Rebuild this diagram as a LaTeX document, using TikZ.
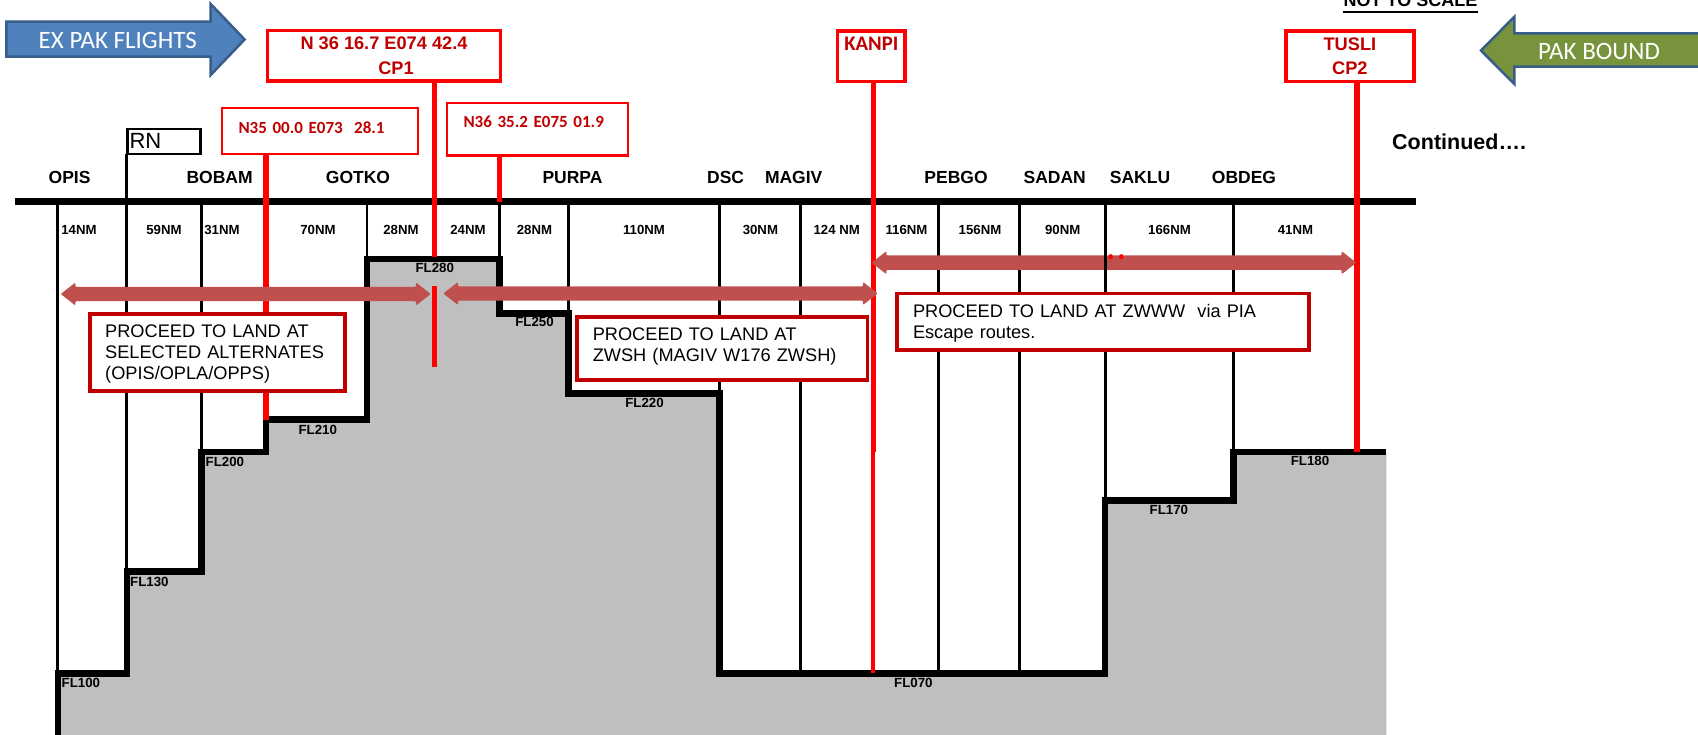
\documentclass[tikz,border=0pt]{standalone}
\usepackage{fontspec}
\setmainfont{Liberation Sans}
\newfontfamily\calibri{Carlito}
\definecolor{fixred}{RGB}{255,0,0}
\definecolor{notered}{RGB}{192,0,0}
\definecolor{routered}{RGB}{192,80,77}
\definecolor{terrain}{RGB}{191,191,191}
\definecolor{exblue}{RGB}{79,129,189}
\definecolor{edgeblue}{RGB}{56,93,138}
\definecolor{bndgreen}{RGB}{119,147,60}
\newcommand\BaseY{201.7}
\newcommand\RouteArrow[3]{%
  \fill[routered, rounded corners=1pt] (#1,#3) -- (#1+14.7,#3-11.5) -- (#1+14.7,#3-7.2)
    -- (#2-14.7,#3-7.2) -- (#2-14.7,#3-11.5) -- (#2,#3) -- (#2-14.7,#3+11.5)
    -- (#2-14.7,#3+7.2) -- (#1+14.7,#3+7.2) -- (#1+14.7,#3+11.5) -- cycle;}
\tikzset{
  wpt/.style={
    font=\bfseries\fontsize{17.5}{20}\selectfont,
    inner sep=0pt
  },
  dist/.style={
    font=\bfseries\fontsize{13.2}{15}\selectfont,
    inner sep=0pt
  },
  flvl/.style={
    font=\bfseries\fontsize{13.3}{15}\selectfont,
    inner sep=0pt
  },
  grid/.style={
    line width=2.8pt
  },
  ridge/.style={
    line width=6.5pt,
    line join=miter
  },
  fixline/.style={
    draw=fixred,
    line width=5.5pt
  },
  fixbox/.style={
    draw=fixred,
    line width=3.5pt,
    fill=white,
    text=notered,
    inner sep=0pt,
    align=center,
    font=\bfseries\fontsize{18.2}{25}\selectfont
  },
  posbox/.style={
    draw=fixred,
    line width=2.5pt,
    fill=white,
    text=notered,
    inner xsep=16.3pt,
    inner ysep=0pt,
    align=left,
    font=\calibri\bfseries\fontsize{17}{20}\selectfont
  },
  notebox/.style={
    draw=notered,
    line width=3.8pt,
    fill=white,
    inner xsep=15.5pt,
    inner ysep=0pt,
    align=left,
    font=\fontsize{18.2}{21}\selectfont
  },
  blockarrow/.style={
    line width=2.5pt,
    draw=edgeblue,
    line join=miter
  },
  blocktext/.style={
    text=white,
    inner sep=0pt,
    font=\calibri\fontsize{25}{28}\selectfont
  }
}
\begin{document}
\begin{tikzpicture}[x=1pt,y=-1pt]
  \useasboundingbox (0,0) rectangle (1698,735);

  % flow direction arrows
  \draw[blockarrow, fill=exblue] (6.4,21.7) -- (210.7,21.7) -- (210.7,4) -- (244.6,39.5)
    -- (210.7,75) -- (210.7,56.7) -- (6.4,56.7) -- cycle;
  \node[blocktext] (expak) at (117.8,40) {EX PAK FLIGHTS};
  \draw[blockarrow, fill=bndgreen] (1720,33.3) -- (1514.4,33.3) -- (1514.4,16.7) -- (1481,50.5)
    -- (1514.4,84) -- (1514.4,66.7) -- (1720,66.7) -- cycle;
  \node[blocktext] (pakbound) at (1599,51.7) {PAK BOUND};

  \node[inner sep=0pt, anchor=base, font=\bfseries\fontsize{18}{20}\selectfont] (nts) at (1410.5,6.7) {NOT TO SCALE};
  \draw[line width=2pt] ([yshift=-5pt]nts.base west) -- ([yshift=-5pt]nts.base east);
  \node[inner sep=0pt, anchor=west, font=\bfseries\fontsize{21.5}{24}\selectfont] (cont) at (1392,141.7) {Continued….};

  % terrain profile
  \fill[terrain] (57.8,740) |- (126.8,673.3) |- (201.6,571.5) |- (266,452.2) |- (367,419.7)
    |- (499.5,259.2) |- (568.3,313.3) |- (719.3,393.3) |- (1105.2,673.3) |- (1233.3,500.3)
    |- (1386.4,452.2) -- (1386.4,740) -- cycle;

  % sector lines
  \draw[grid] (57.8,\BaseY) --++ (0,471.6);
  \draw[grid] (126.8,154) --++ (0,417.5);
  \draw[grid] (201.6,\BaseY) --++ (0,250.5);
  \draw[grid] (367,\BaseY) --++ (0,57.5);
  \draw[grid] (499.5,\BaseY) --++ (0,57.5);
  \draw[grid] (568.3,\BaseY) --++ (0,111.6);
  \draw[grid] (719.3,\BaseY) --++ (0,191.6);
  \draw[grid] (800.5,\BaseY) --++ (0,471.6);
  \draw[grid] (938.6,\BaseY) --++ (0,471.6);
  \draw[grid] (1019.3,\BaseY) --++ (0,471.6);
  \draw[grid] (1233.3,\BaseY) --++ (0,250.5);

  \draw[ridge] (57.8,740) |- (126.8,673.3) |- (201.6,571.5) |- (266,452.2) |- (367,419.7)
    |- (499.5,259.2) |- (568.3,313.3) |- (719.3,393.3) |- (1105.2,673.3) |- (1233.3,500.3)
    |- (1386.4,452.2);

  \draw[line width=6.7pt] (15,\BaseY) -- (1415.8,\BaseY);

  % fixes
  \node[fixbox, minimum width=232.6pt, minimum height=50.3pt] (cpone) at (384,55.9)
    {N 36 16.7 E074 42.4\\\hspace*{24pt}CP1};
  \node[fixbox, minimum width=67.2pt, minimum height=50.8pt,
    font=\calibri\bfseries\fontsize{20.7}{25}\selectfont] (kanpi) at (871.3,56.2) {KANPI\\\mbox{}};
  \node[fixbox, minimum width=128.3pt, minimum height=50.8pt,
    font=\bfseries\fontsize{18.2}{24.3}\selectfont] (tusli) at (1349.9,56.2) {TUSLI\\CP2};
  \node[posbox, minimum width=196pt, minimum height=45.6pt, text width=163.4pt,
    text depth=7pt] (fixa) at (320.2,131) {N35 00.0 E073\ \ 28.1};
  \node[posbox, minimum width=180.6pt, minimum height=52.9pt, text width=148pt,
    text depth=16pt] (fixb) at (537.5,129.3) {N36 35.2 E075 01.9};
  \node[draw, line width=2.5pt, inner xsep=2pt, inner ysep=0pt, minimum width=73pt,
    minimum height=24.8pt, text width=69pt, align=left,
    font=\fontsize{22}{24}\selectfont] (rn) at (164,141.4) {RN};

  \draw[fixline] (266,0 |- fixa.south) -- (266,419.7);
  \draw[fixline] (434.5,0 |- cpone.south) -- (434.5,257);
  \draw[fixline, line width=5pt] (434.5,286) -- (434.5,366.7);
  \draw[fixline] (499.5,0 |- fixb.south) -- (499.5,\BaseY);
  \draw[fixline] (873.3,0 |- kanpi.south) -- (873.3,451.7);
  \draw[fixline, line width=4pt] (872.8,451.7) -- (872.8,673.3);
  \draw[fixline] (1357,0 |- tusli.south) -- (1357,452.2);

  % escape routes
  \RouteArrow{60.7}{430.7}{294}
  \RouteArrow{443.3}{877.7}{293.5}
  \RouteArrow{871.7}{1356.4}{262.7}
  \fill[fixred] (1110.7,256.7) ellipse (2.2 and 2.6);
  \fill[fixred] (1121.3,256.7) ellipse (2.2 and 2.6);
  \draw[grid] (1105.2,\BaseY) --++ (0,298.6);

  \node[notebox, minimum width=255pt, minimum height=77pt, text width=224pt,
    text depth=42pt] (alt) at (217.2,352.5)
    {PROCEED TO LAND AT\\SELECTED ALTERNATES\\(OPIS/OPLA/OPPS)};
  \node[notebox, minimum width=290.4pt, minimum height=63pt, text width=258.8pt,
    text depth=27.8pt] (zwsh) at (722.2,348.4)
    {PROCEED TO LAND AT\\ZWSH (MAGIV W176 ZWSH)};
  \node[notebox, minimum width=412pt, minimum height=56.5pt, text width=380pt,
    text depth=22pt] (zwww) at (1103,321.7)
    {PROCEED TO LAND AT ZWWW\ \ via PIA\\Escape routes.};

  % waypoints
  \node[wpt] (opis) at (69.6,177.6) {OPIS};
  \node[wpt] (bobam) at (219.6,177.6) {BOBAM};
  \node[wpt] (gotko) at (358,177.6) {GOTKO};
  \node[wpt] (purpa) at (572.5,177.6) {PURPA};
  \node[wpt] (dsc) at (725.6,177.6) {DSC};
  \node[wpt] (magiv) at (793.7,177.6) {MAGIV};
  \node[wpt] (pebgo) at (956,177.6) {PEBGO};
  \node[wpt] (sadan) at (1054.7,177.6) {SADAN};
  \node[wpt] (saklu) at (1140,177.6) {SAKLU};
  \node[wpt] (obdeg) at (1244,177.6) {OBDEG};

  % distances
  \node[dist] (nma) at (79,230) {14NM};
  \node[dist] (nmb) at (164,230) {59NM};
  \node[dist] (nmc) at (222,230) {31NM};
  \node[dist] (nmd) at (318,230) {70NM};
  \node[dist] (nme) at (401,230) {28NM};
  \node[dist] (nmf) at (468,230) {24NM};
  \node[dist] (nmg) at (534.5,230) {28NM};
  \node[dist] (nmh) at (644,230) {110NM};
  \node[dist] (nmi) at (760.4,230) {30NM};
  \node[dist] (nmj) at (836.7,230) {124 NM};
  \node[dist] (nmk) at (906.5,230) {116NM};
  \node[dist] (nml) at (980,230) {156NM};
  \node[dist] (nmm) at (1062.7,230) {90NM};
  \node[dist] (nmn) at (1169.5,230) {166NM};
  \node[dist] (nmo) at (1295.5,230) {41NM};

  % flight levels
  \node[flvl, anchor=west] (fla) at (61.5,683.3) {FL100};
  \node[flvl, anchor=west] (flb) at (130,581.7) {FL130};
  \node[flvl, anchor=west] (flc) at (205.5,461.7) {FL200};
  \node[flvl] (fld) at (317.8,430) {FL210};
  \node[flvl] (fle) at (434.8,268.3) {FL280};
  \node[flvl] (flf) at (534.5,322.3) {FL250};
  \node[flvl] (flg) at (644.5,403.3) {FL220};
  \node[flvl] (flh) at (913.4,683.3) {FL070};
  \node[flvl] (fli) at (1168.9,510) {FL170};
  \node[flvl] (flj) at (1310,461) {FL180};
\end{tikzpicture}
\end{document}
